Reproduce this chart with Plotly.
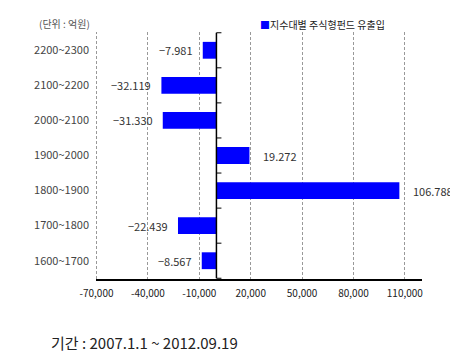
import plotly.graph_objects as go

categories = ["2200~2300", "2100~2200", "2000~2100", "1900~2000", "1800~1900", "1700~1800", "1600~1700"]
values = [-7981, -32119, -31330, 19272, 106788, -22439, -8567]
x_ticks = [-70000, -40000, -10000, 20000, 50000, 80000, 110000]
x_tick_labels = ["-70,000", "-40,000", "-10,000", "20,000", "50,000", "80,000", "110,000"]
series_name = "지수대별 주식형펀드 유출입"
unit_text = "(단위 : 억원)"
period_text = "기간 : 2007.1.1 ~ 2012.09.19"

FONT = "Noto Sans CJK KR, Dotum, sans-serif"
BLUE = "#0000ff"
GRID = "#999999"
DASH = "3px,2px"
OFF = 8  # default page body margin
W, H = 458 - OFF, 357 - OFF
ML, MR, MT, MB = 96 - OFF, 36, 32 - OFF, 78
PW = W - ML - MR
PH = H - MT - MB


def fmt(v):
    s = f"{abs(v):,}".replace(",", ".")
    return ("\u2212" + s) if v < 0 else s


fig = go.Figure()
fig.add_trace(go.Bar(
    x=values, y=categories, orientation="h",
    marker=dict(color=BLUE, line=dict(width=0)),
    width=0.48, showlegend=False, hoverinfo="x+y",
))

for v, c in zip(values, categories):
    fig.add_annotation(
        x=v, y=c, xref="x", yref="y", text=fmt(v), showarrow=False,
        xanchor="right" if v < 0 else "left",
        xshift=-8 if v < 0 else 12,
        font=dict(family=FONT, size=11, color="#333333"),
    )

# gridline at the left edge of the plot (first tick)
fig.add_shape(type="line", xref="x", yref="paper", x0=x_ticks[0], x1=x_ticks[0], y0=0, y1=1,
              line=dict(color=GRID, width=1, dash=DASH), layer="below")

# y-axis line at zero with tick marks on category boundaries
n = len(categories)
fig.add_shape(type="line", xref="x", yref="y", x0=0, x1=0, y0=-0.5, y1=n - 0.5,
              line=dict(color="black", width=1.5))
for i in range(n + 1):
    b = i - 0.5
    fig.add_shape(type="line", xref="x", yref="y", xsizemode="pixel", xanchor=0,
                  x0=0, x1=5, y0=b, y1=b, line=dict(color="black", width=1))

fig.add_annotation(x=0.0, y=1.0, xref="paper", yref="paper", text=unit_text,
                   showarrow=False, xanchor="right", yanchor="bottom", xshift=-4, yshift=-1,
                   font=dict(family=FONT, size=10, color="#555555"))
fig.add_annotation(x=(258 - OFF - ML) / PW, y=1.0, xref="paper", yref="paper",
                   text=f"<span style='color:{BLUE}'>■</span>{series_name}",
                   showarrow=False, xanchor="left", yanchor="bottom", yshift=-2,
                   font=dict(family=FONT, size=10, color="#222222"))
fig.add_annotation(x=(49 - OFF - ML) / PW, y=-(342 - OFF - MT - PH) / PH, xref="paper", yref="paper",
                   text=period_text,
                   showarrow=False, xanchor="left", yanchor="middle",
                   font=dict(family=FONT, size=15, color="#222222"))

fig.update_layout(
    width=W, height=H,
    margin=dict(l=ML, r=MR, t=MT, b=MB, autoexpand=False),
    paper_bgcolor="white", plot_bgcolor="white",
    font=dict(family=FONT, color="#333333"),
    bargap=0.52,
    xaxis=dict(range=[-70300, 120000], tickvals=x_ticks, ticktext=x_tick_labels,
               showgrid=True, gridcolor=GRID, griddash=DASH, gridwidth=1,
               zeroline=False, showline=True, linecolor="black", linewidth=1.5,
               tickfont=dict(family=FONT, size=10, color="#222222"), ticks="",
               ticklabelstandoff=4, automargin=False),
    yaxis=dict(categoryorder="array", categoryarray=categories, autorange="reversed",
               showgrid=False, zeroline=False, showline=False, ticks="",
               tickfont=dict(family=FONT, size=11, color="#444444"),
               ticklabelstandoff=6, automargin=False),
)

fig.write_html("out.html")
